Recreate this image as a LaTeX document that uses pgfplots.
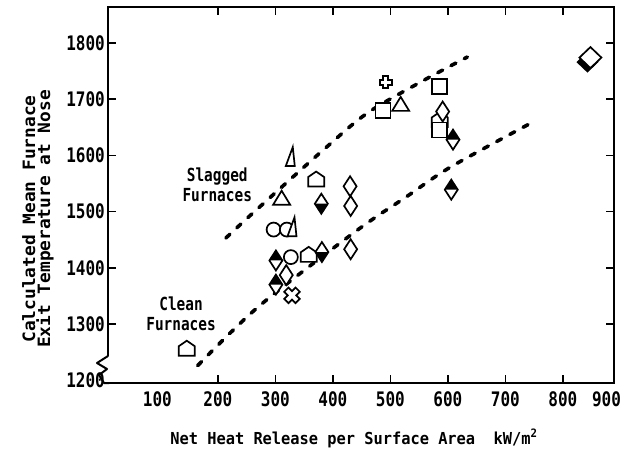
\documentclass[border=0pt]{standalone}
\usepackage{pgfplots}
\pgfplotsset{compat=1.18}
\usepackage{fontspec}
\setmainfont{DejaVu Sans Mono}
\newfontfamily\tickfont[FakeStretch=0.8]{DejaVu Sans Mono}
\newfontfamily\labfont[FakeStretch=0.93]{DejaVu Sans Mono}
\newfontfamily\ylabfont[FakeStretch=1.05]{DejaVu Sans Mono}

\newcommand\dpath{\pgfpathmoveto{\pgfqpoint{0pt}{10pt}}\pgfpathlineto{\pgfqpoint{6.5pt}{0pt}}\pgfpathlineto{\pgfqpoint{0pt}{-10pt}}\pgfpathlineto{\pgfqpoint{-6.5pt}{0pt}}\pgfpathclose}
\pgfdeclareplotmark{odia}{\pgfsetfillcolor{white}\dpath\pgfusepathqfillstroke}
\pgfdeclareplotmark{dtop}{\pgfsetfillcolor{white}\dpath\pgfusepathqfill
  \pgfpathmoveto{\pgfqpoint{0pt}{10pt}}\pgfpathlineto{\pgfqpoint{6.5pt}{0pt}}\pgfpathlineto{\pgfqpoint{-6.5pt}{0pt}}\pgfpathclose
  \pgfsetfillcolor{black}\pgfusepathqfill\dpath\pgfusepathqstroke}
\pgfdeclareplotmark{dbot}{\pgfsetfillcolor{white}\dpath\pgfusepathqfill
  \pgfpathmoveto{\pgfqpoint{0pt}{-10pt}}\pgfpathlineto{\pgfqpoint{6.5pt}{0pt}}\pgfpathlineto{\pgfqpoint{-6.5pt}{0pt}}\pgfpathclose
  \pgfsetfillcolor{black}\pgfusepathqfill\dpath\pgfusepathqstroke}
\pgfdeclareplotmark{osq}{\pgfsetfillcolor{white}\pgfsetcornersarced{\pgfqpoint{2pt}{2pt}}%
  \pgfpathmoveto{\pgfqpoint{0pt}{7.5pt}}\pgfpathlineto{\pgfqpoint{7.5pt}{7.5pt}}\pgfpathlineto{\pgfqpoint{7.5pt}{-7.5pt}}\pgfpathlineto{\pgfqpoint{-7.5pt}{-7.5pt}}\pgfpathlineto{\pgfqpoint{-7.5pt}{7.5pt}}\pgfpathclose\pgfusepathqfillstroke}
\pgfdeclareplotmark{otri}{\pgfsetfillcolor{white}\pgfsetcornersarced{\pgfqpoint{1pt}{1pt}}%
  \pgfpathmoveto{\pgfqpoint{0pt}{8.5pt}}\pgfpathlineto{\pgfqpoint{8.5pt}{-5.5pt}}\pgfpathlineto{\pgfqpoint{-8.5pt}{-5.5pt}}\pgfpathclose\pgfusepathqfillstroke}
\pgfdeclareplotmark{thintri}{\pgfsetfillcolor{white}\pgfsetcornersarced{\pgfqpoint{1pt}{1pt}}%
  \pgfpathmoveto{\pgfqpoint{2.5pt}{10pt}}\pgfpathlineto{\pgfqpoint{4.5pt}{-9pt}}\pgfpathlineto{\pgfqpoint{-4.5pt}{-9pt}}\pgfpathclose\pgfusepathqfillstroke}
\pgfdeclareplotmark{ocirc}{\pgfsetfillcolor{white}\pgfpathcircle{\pgfpointorigin}{7pt}\pgfusepathqfillstroke}
\pgfdeclareplotmark{house}{\pgfsetfillcolor{white}\pgfsetcornersarced{\pgfqpoint{1.5pt}{1.5pt}}%
  \pgfpathmoveto{\pgfqpoint{0pt}{8pt}}\pgfpathlineto{\pgfqpoint{8pt}{2.5pt}}\pgfpathlineto{\pgfqpoint{8pt}{-7pt}}\pgfpathlineto{\pgfqpoint{-8pt}{-7pt}}\pgfpathlineto{\pgfqpoint{-8pt}{2.5pt}}\pgfpathclose\pgfusepathqfillstroke}
\newcommand\pluspath[2]{\pgfpathmoveto{\pgfqpoint{-#1}{#2}}\pgfpathlineto{\pgfqpoint{#1}{#2}}\pgfpathlineto{\pgfqpoint{#1}{#1}}\pgfpathlineto{\pgfqpoint{#2}{#1}}\pgfpathlineto{\pgfqpoint{#2}{-#1}}\pgfpathlineto{\pgfqpoint{#1}{-#1}}\pgfpathlineto{\pgfqpoint{#1}{-#2}}\pgfpathlineto{\pgfqpoint{-#1}{-#2}}\pgfpathlineto{\pgfqpoint{-#1}{-#1}}\pgfpathlineto{\pgfqpoint{-#2}{-#1}}\pgfpathlineto{\pgfqpoint{-#2}{#1}}\pgfpathlineto{\pgfqpoint{-#1}{#1}}\pgfpathclose}
\pgfdeclareplotmark{oplus}{\pgfsetfillcolor{white}\pgfsetcornersarced{\pgfqpoint{1.5pt}{1.5pt}}\pluspath{2.5pt}{6pt}\pgfusepathqfillstroke}
\pgfdeclareplotmark{quat}{\pgfsetfillcolor{white}\pgftransformrotate{45}\pgfsetcornersarced{\pgfqpoint{2pt}{2pt}}\pluspath{3pt}{8pt}\pgfusepathqfillstroke}
\pgfdeclareplotmark{bigdia}{%
  \pgfpathmoveto{\pgfqpoint{-3pt}{6pt}}\pgfpathlineto{\pgfqpoint{8pt}{-4.5pt}}\pgfpathlineto{\pgfqpoint{-3pt}{-15pt}}\pgfpathlineto{\pgfqpoint{-14pt}{-4.5pt}}\pgfpathclose
  \pgfsetfillcolor{black}\pgfusepathqfill
  \pgfsetcornersarced{\pgfqpoint{1.5pt}{1.5pt}}%
  \pgfpathmoveto{\pgfqpoint{0pt}{10.5pt}}\pgfpathlineto{\pgfqpoint{11pt}{0pt}}\pgfpathlineto{\pgfqpoint{0pt}{-10.5pt}}\pgfpathlineto{\pgfqpoint{-11pt}{0pt}}\pgfpathclose
  \pgfsetfillcolor{white}\pgfusepathqfillstroke}

\begin{document}
\begin{tikzpicture}
\begin{axis}[
  at={(108pt,65pt)}, anchor=south west,
  scale only axis, width=506pt, height=376pt,
  xmin=9, xmax=889, ymin=1195, ymax=1864,
  axis line style={line width=2pt},
  tick align=inside, major tick length=8pt,
  tick style={line width=1.5pt, black},
  xtick={200,300,...,800},
  ytick={1300,1400,...,1800},
  extra x ticks={100,889}, extra x tick labels={100,900\hspace*{9pt}},
  extra x tick style={major tick length=0pt, xticklabel style={xshift=-3pt}},
  extra y ticks={1200}, extra y tick labels={1200},
  extra y tick style={major tick length=0pt},
  /pgf/number format/assume math mode=true,
  /pgf/number format/1000 sep={},
  ticklabel style={font=\tickfont\bfseries\fontsize{20}{20}\selectfont},
  yticklabel style={inner sep=0pt, xshift=-3pt},
  xticklabel style={inner sep=0pt, yshift=-8pt},
  clip=false,
  mark options={solid, line width=1.7pt, draw=black},
]
% smooth dashed trend curves
\addplot[smooth, line width=3.6pt, dash pattern=on 5.5pt off 9.5pt, line cap=round]
  coordinates {(214,1453) (267,1503) (386,1612) (461,1676) (559,1734) (634,1775)};
\addplot[smooth, line width=3.6pt, dash pattern=on 5.5pt off 9.5pt, line cap=round]
  coordinates {(165,1226) (272,1332) (440,1465) (526,1525) (606,1580) (751,1661)};
% markers
\addplot[only marks, mark=house] coordinates {(586,1663) (371,1557) (358,1423) (146,1256)};
\addplot[only marks, mark=ocirc] coordinates {(297,1468) (320,1468) (327,1419)};
\addplot[only marks, mark=thintri] coordinates {(326,1597) (329,1472)};
\addplot[only marks, mark=osq] coordinates {(487,1680) (586,1722) (586,1645)};
\addplot[only marks, mark=otri] coordinates {(311,1522) (518,1689)};
\addplot[only marks, mark=odia] coordinates {(430,1545) (431,1510) (431,1433) (319,1387) (591,1678)};
\addplot[only marks, mark=dtop] coordinates {(301,1413) (301,1370) (609,1628) (606,1539)};
\addplot[only marks, mark=dbot] coordinates {(380,1514) (381,1428)};
\addplot[only marks, mark=oplus] coordinates {(492,1730)};
\addplot[only marks, mark=quat] coordinates {(329,1351)};
\addplot[only marks, mark=bigdia] coordinates {(848,1774)};
\node[font=\tickfont\bfseries\fontsize{18}{20}\selectfont, align=center] at (axis cs:199,1547) {Slagged\\Furnaces};
\node[font=\tickfont\bfseries\fontsize{18}{20}\selectfont, align=center] at (axis cs:136,1318) {Clean\\Furnaces};
\end{axis}
% axis break on the y axis
\fill[white] (104pt,66.5pt) rectangle (112pt,92pt);
\draw[line width=2pt, line join=round, line cap=round] (108pt,92pt) -- (97pt,85pt) -- (107pt,79pt) -- (99pt,73pt) -- (104pt,65pt) -- (109pt,65pt);
% axis titles
\node[rotate=90, align=center, font=\ylabfont\bfseries\fontsize{17}{14}\selectfont] at (38pt,229pt)
  {Calculated Mean Furnace\\Exit Temperature at Nose};
\node[anchor=base, font=\labfont\bfseries\fontsize{16.5}{18}\selectfont] at (354pt,4pt)
  {Net Heat Release per Surface Area\ \ kW/m\textsuperscript{2}};
\pgfresetboundingbox
\useasboundingbox (0pt,0pt) rectangle (623pt,448pt);
\end{tikzpicture}
\end{document}
